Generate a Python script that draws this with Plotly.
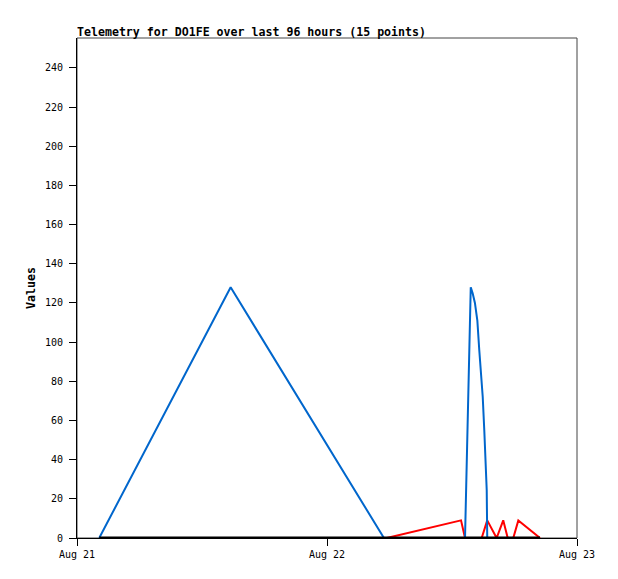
import plotly.graph_objects as go

# series (time, value)
blue_t = ["2023-08-21 02:08", "2023-08-21 14:45", "2023-08-22 05:28", "2023-08-22 13:15",
          "2023-08-22 13:48", "2023-08-22 13:59", "2023-08-22 14:12", "2023-08-22 14:26",
          "2023-08-22 14:37", "2023-08-22 14:47", "2023-08-22 14:57", "2023-08-22 15:06",
          "2023-08-22 15:14", "2023-08-22 15:20", "2023-08-22 15:23"]
blue_v = [0, 128, 0, 0, 128, 125, 120, 111, 96, 86, 72, 55, 40, 24.5, 0]

red_t = ["2023-08-22 05:44", "2023-08-22 12:52", "2023-08-22 13:15", "2023-08-22 14:51",
         "2023-08-22 15:23", "2023-08-22 16:17", "2023-08-22 16:55", "2023-08-22 17:21",
         "2023-08-22 17:53", "2023-08-22 18:22", "2023-08-22 20:27"]
red_v = [0, 9, 0, 0, 9, 0, 9, 0, 0, 9, 0]

black_t = ["2023-08-21 02:08", "2023-08-22 20:27"]
black_v = [0, 0]

x_ticks = ["2023-08-21", "2023-08-22", "2023-08-23"]
x_labels = ["Aug 21", "Aug 22", "Aug 23"]
y_ticks = list(range(0, 241, 20))

mono = "DejaVu Sans Mono"

fig = go.Figure()
fig.add_trace(go.Scatter(x=red_t, y=red_v, mode="lines", line=dict(color="#ff0000", width=2)))
fig.add_trace(go.Scatter(x=blue_t, y=blue_v, mode="lines", line=dict(color="#0066cc", width=2)))
fig.add_trace(go.Scatter(x=black_t, y=black_v, mode="lines", line=dict(color="#000000", width=3)))

# page body adds ~8px, so margins are shifted to land the plot box at 77..577 x 38..538
fig.update_layout(
    width=618, height=579,
    margin=dict(l=69, r=49, t=30, b=49),
    paper_bgcolor="white", plot_bgcolor="white",
    showlegend=False,
    font=dict(family=mono, size=10, color="black"),
    title=dict(text="<b>Telemetry for DO1FE over last 96 hours (15 points)</b>",
               font=dict(family=mono, size=11.6, color="black"),
               xref="paper", x=0, xanchor="left",
               yref="paper", y=1, yanchor="bottom", pad=dict(b=2)),
    shapes=[dict(type="rect", xref="paper", yref="paper", x0=0, x1=1, y0=0, y1=1,
                 line=dict(color="#444444", width=1), layer="below")],
)
fig.update_xaxes(range=["2023-08-21", "2023-08-23"], tickvals=x_ticks, ticktext=x_labels,
                 ticks="outside", ticklen=7, tickcolor="black", showgrid=False, zeroline=False,
                 showline=True, linecolor="black", linewidth=1,
                 tickfont=dict(family=mono, size=10))
fig.update_yaxes(range=[0, 255.3], tickvals=y_ticks,
                 ticks="outside", ticklen=7, tickcolor="black", showgrid=False, zeroline=False,
                 showline=True, linecolor="black", linewidth=1, ticklabelstandoff=4,
                 tickfont=dict(family=mono, size=10),
                 title=dict(text="<b>Values</b>", font=dict(family=mono, size=11.6), standoff=6))

fig.write_html("out.html")
